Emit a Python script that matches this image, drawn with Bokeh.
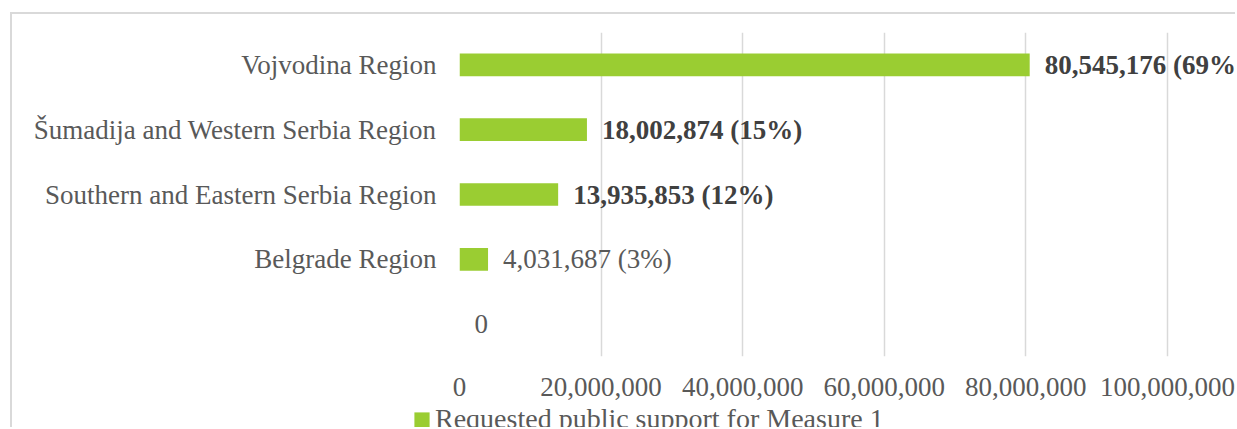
from bokeh.plotting import figure
from bokeh.models import (ColumnDataSource, FactorRange, Range1d, FixedTicker,
                          NumeralTickFormatter, Legend, LegendItem)
from bokeh.core.properties import value
from bokeh.embed import file_html
from bokeh.resources import INLINE

# ---- data (top to bottom in the chart) ----
categories = ["Vojvodina Region", "Šumadija and Western Serbia Region",
              "Southern and Eastern Serbia Region", "Belgrade Region", " "]
values = [80545176, 18002874, 13935853, 4031687, 0]
percents = [69, 15, 12, 3, None]
bold_flags = [True, True, True, False, False]
x_ticks = [0, 20000000, 40000000, 60000000, 80000000, 100000000]
series_name = "Requested public support for Measure 1"

labels = []
for v, pc in zip(values, percents):
    labels.append(f"{v:,}" + (f" ({pc}%)" if pc is not None else ""))

src = ColumnDataSource(dict(
    cat=categories,
    val=values,
    label=labels,
    style=["bold" if b else "normal" for b in bold_flags],
    color=["#404040" if b else "#595959" for b in bold_flags],
))

FONT = "Liberation Serif"
FS = "27px"
BAR = "#9ACD32"
TXT = "#595959"
BORDER = "2px solid #d9d9d9"

p = figure(
    width=1225, height=388,
    y_range=FactorRange(factors=categories[::-1], range_padding=0),
    x_range=Range1d(0, 109.9e6),
    output_backend="svg", toolbar_location=None,
    min_border_left=447, min_border_right=0, min_border_top=18, min_border_bottom=46,
)
p.styles = {"border-top": BORDER, "border-left": BORDER,
            "margin-left": "10px", "margin-top": "12px"}
p.outline_line_color = None
p.background_fill_color = "white"

r = p.hbar(y="cat", right="val", left=0, height=0.35, source=src,
           fill_color=BAR, line_color=None)

p.text(x="val", y="cat", text="label", source=src, x_offset=15,
       text_baseline="middle", text_align="left",
       text_font=value(FONT), text_font_size=FS,
       text_font_style="style", text_color="color")

# axes
p.xaxis.ticker = FixedTicker(ticks=x_ticks)
p.xaxis.formatter = NumeralTickFormatter(format="0,0")
p.xaxis.axis_line_color = None
p.xaxis.major_tick_line_color = None
p.xaxis.minor_tick_line_color = None
p.xaxis.major_label_text_font = FONT
p.xaxis.major_label_text_font_size = FS
p.xaxis.major_label_text_color = TXT
p.xaxis.major_label_standoff = 15

p.yaxis.axis_line_color = None
p.yaxis.major_tick_line_color = None
p.yaxis.minor_tick_line_color = None
p.yaxis.major_label_text_font = FONT
p.yaxis.major_label_text_font_size = FS
p.yaxis.major_label_text_color = TXT
p.yaxis.major_label_standoff = 17

p.ygrid.grid_line_color = None
p.xgrid.ticker = FixedTicker(ticks=x_ticks)
p.xgrid.grid_line_color = "#d9d9d9"
p.xgrid.grid_line_width = 1.5

# ---- legend strip below the chart (separate root, so its frame is not aligned) ----
p2 = figure(width=1225, height=27, output_backend="svg", toolbar_location=None,
            x_axis_type=None, y_axis_type=None, min_border=0,
            x_range=Range1d(0, 1), y_range=Range1d(0, 1))
p2.styles = {"border-left": BORDER, "margin-left": "10px"}
p2.outline_line_color = None
p2.xgrid.visible = False
p2.ygrid.visible = False
# legend proxy: one zero-length bar outside the visible range
legend_src = ColumnDataSource(dict(y=[-5.0], right=[0.0]))
r2 = p2.hbar(y="y", right="right", left=0, height=0.35, source=legend_src,
             fill_color=BAR, line_color=None)
legend = Legend(items=[LegendItem(label=series_name, renderers=[r2])],
                location=(400, -8), orientation="horizontal",
                padding=0, margin=0, spacing=0,
                glyph_width=19, glyph_height=19, label_standoff=4,
                label_text_font=FONT, label_text_font_size="28px",
                label_text_color=TXT,
                border_line_color=None, background_fill_alpha=0)
p2.add_layout(legend, "center")

open("out.html", "w").write(file_html([p, p2], INLINE))
